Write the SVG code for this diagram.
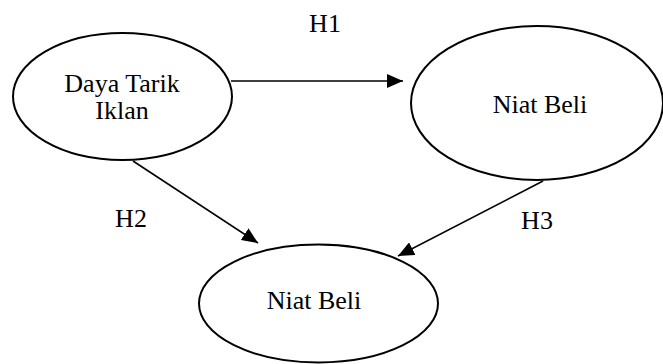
<svg xmlns="http://www.w3.org/2000/svg" width="663" height="364" viewBox="0 0 663 364">
  <style>
    .node ellipse { fill: #ffffff; stroke: #000000; stroke-width: 2; }
    .node text, .label { font-family: "Liberation Serif", "Times New Roman", serif; font-size: 26px; fill: #000000; text-anchor: middle; }
    .edge { stroke: #000000; stroke-width: 1.6; fill: none; marker-end: url(#arrow); }
  </style>
  <defs>
    <marker id="arrow" viewBox="0 0 16 14" refX="16" refY="7" markerWidth="16" markerHeight="14" markerUnits="userSpaceOnUse" orient="auto">
      <path d="M0,0 L16,7 L0,14 Z" fill="#000000"/>
    </marker>
  </defs>

  <g id="connectors">
    <line class="edge" x1="231" y1="81" x2="403" y2="81"/>
    <line class="edge" x1="133" y1="161" x2="258" y2="243"/>
    <line class="edge" x1="543" y1="181" x2="398" y2="256"/>
  </g>

  <g id="daya-tarik-iklan" class="node">
    <ellipse cx="122.5" cy="96.5" rx="109.5" ry="63.5"/>
    <text x="122" y="92">Daya Tarik</text>
    <text x="122" y="119">Iklan</text>
  </g>

  <g id="niat-beli-1" class="node">
    <ellipse cx="537" cy="103" rx="126" ry="77"/>
    <text x="540" y="113">Niat Beli</text>
  </g>

  <g id="niat-beli-2" class="node">
    <ellipse cx="318.5" cy="303.5" rx="119.5" ry="59"/>
    <text x="314" y="309">Niat Beli</text>
  </g>

  <g id="edge-labels">
    <text class="label" x="325" y="32">H1</text>
    <text class="label" x="131" y="227">H2</text>
    <text class="label" x="537" y="229">H3</text>
  </g>
</svg>
